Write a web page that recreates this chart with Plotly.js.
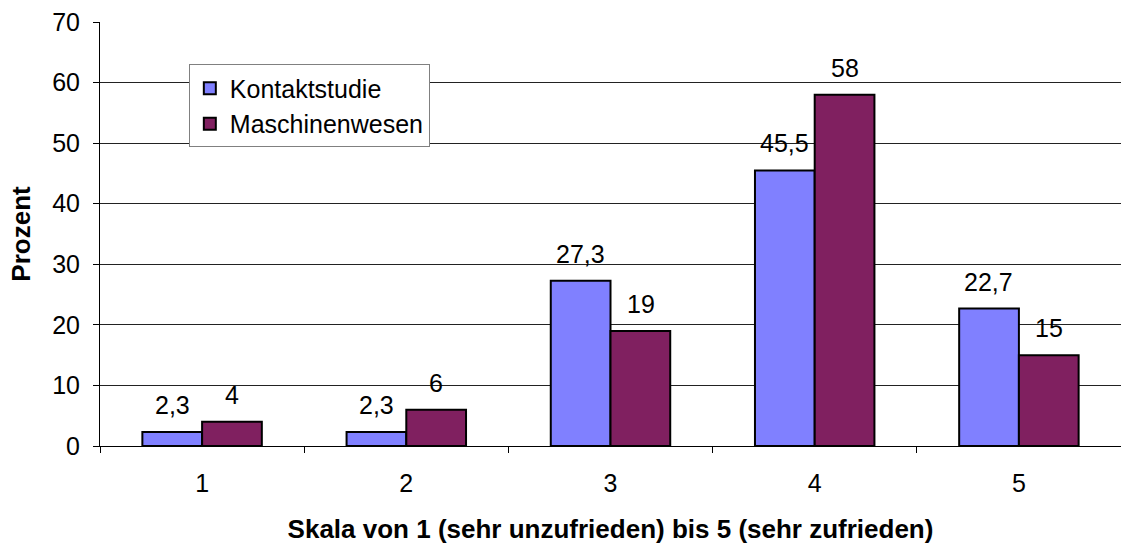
<!DOCTYPE html>
<html>
<head>
<meta charset="utf-8">
<script src="https://cdn.plot.ly/plotly-3.0.1.min.js"></script>
<style>html,body{margin:0;padding:0;background:#fff;}</style>
</head>
<body>
<div id="chart" style="width:1121px;height:544px;"></div>
<script>
const categories = ["1", "2", "3", "4", "5"];
const kontaktstudie = [2.3, 2.3, 27.3, 45.5, 22.7];
const maschinenwesen = [4, 6, 19, 58, 15];
const kontaktLabels = ["2,3", "2,3", "27,3", "45,5", "22,7"];
const maschinenLabels = ["4", "6", "19", "58", "15"];

const font = "Liberation Sans, Arial, sans-serif";

const traces = [
  {type: "bar", name: "Kontaktstudie", x: categories, y: kontaktstudie,
   marker: {color: "#8080FF", line: {color: "#000", width: 2}}, hoverinfo: "none"},
  {type: "bar", name: "Maschinenwesen", x: categories, y: maschinenwesen,
   marker: {color: "#802060", line: {color: "#000", width: 2}}, hoverinfo: "none"}
];

const annotations = [];
categories.forEach((c, i) => {
  annotations.push({x: i, y: kontaktstudie[i], text: kontaktLabels[i], showarrow: false,
    xref: "x", yref: "y", xshift: -30, yshift: 27, yanchor: "middle",
    font: {family: font, size: 25, color: "#000"}});
  annotations.push({x: i, y: maschinenwesen[i], text: maschinenLabels[i], showarrow: false,
    xref: "x", yref: "y", xshift: 30, yshift: 27, yanchor: "middle",
    font: {family: font, size: 25, color: "#000"}});
});

const layout = {
  width: 1121, height: 544,
  margin: {l: 100, r: 0, t: 22, b: 98},
  paper_bgcolor: "#fff", plot_bgcolor: "#fff",
  font: {family: font, size: 25, color: "#000"},
  barmode: "group", bargap: 0.415, bargroupgap: 0,
  showlegend: true,
  legend: {x: 0.087, y: 0.9, xanchor: "left", yanchor: "top",
    bordercolor: "#808080", borderwidth: 1, bgcolor: "#fff",
    font: {family: font, size: 25, color: "#000"},
    itemwidth: 30, tracegroupgap: 0},
  xaxis: {type: "category", range: [-0.5, 4.5], tickson: "boundaries", ticks: "outside", ticklen: 6,
    tickcolor: "#000", showline: true, linecolor: "#000", linewidth: 1,
    showgrid: false, zeroline: false, automargin: false,
    ticklabelstandoff: 15,
    tickfont: {family: font, size: 25},
    title: {text: "<b>Skala von 1 (sehr unzufrieden) bis 5 (sehr zufrieden)</b>",
      font: {family: font, size: 26}, standoff: 24}},
  yaxis: {range: [0, 70], dtick: 10, ticks: "outside", ticklen: 6, tickcolor: "#000",
    showline: true, linecolor: "#000", linewidth: 1, automargin: false,
    ticklabelstandoff: 8,
    showgrid: true, gridcolor: "#222", gridwidth: 1, zeroline: false,
    tickfont: {family: font, size: 25},
    title: {text: "<b>Prozent</b>", font: {family: font, size: 26}, standoff: 14}},
  annotations: annotations
};

Plotly.newPlot("chart", traces, layout, {displayModeBar: false, staticPlot: true});
</script>
</body>
</html>
